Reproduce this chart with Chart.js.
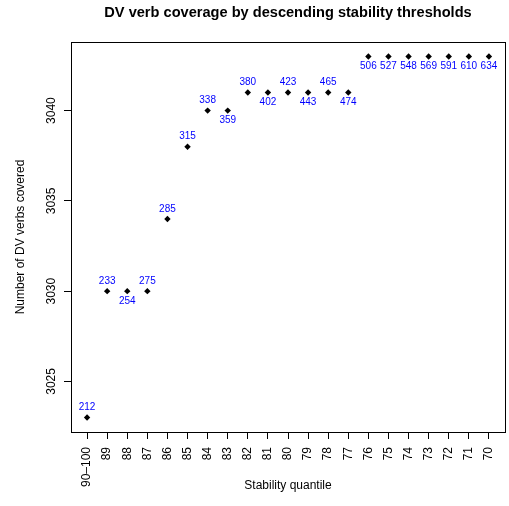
<!DOCTYPE html>
<html>
<head>
<meta charset="utf-8">
<script src="https://cdn.jsdelivr.net/npm/chart.js@4"></script>
<style>
  body { margin: 0; background: #fff; }
</style>
</head>
<body>
<canvas id="chart" width="509" height="506"></canvas>
<script>
const quantiles = ['90–100', '89', '88', '87', '86', '85', '84', '83', '82', '81', '80',
  '79', '78', '77', '76', '75', '74', '73', '72', '71', '70'];
const versesCovered = [3023, 3030, 3030, 3030, 3034, 3038, 3040, 3040, 3041, 3041, 3041,
  3041, 3041, 3041, 3043, 3043, 3043, 3043, 3043, 3043, 3043];
const pointLabels = [212, 233, 254, 275, 285, 315, 338, 359, 380, 402, 423,
  443, 465, 474, 506, 527, 548, 569, 591, 610, 634];
// which side of the point each count label sits on
const labelSide = ['up', 'up', 'down', 'up', 'up', 'up', 'up', 'down', 'up', 'down', 'up',
  'down', 'up', 'down', 'down', 'down', 'down', 'down', 'down', 'down', 'down'];
const yTicks = [3025, 3030, 3035, 3040];

const FONT = "'Liberation Sans', Arial, Helvetica, sans-serif";
Chart.defaults.font.family = FONT;
Chart.defaults.color = '#000';

const extras = {
  id: 'extras',
  afterDraw(chart) {
    const ctx = chart.ctx;
    const area = chart.chartArea;
    const meta = chart.getDatasetMeta(0);
    ctx.save();

    // box round the plot
    ctx.strokeStyle = '#000';
    ctx.lineWidth = 1;
    ctx.strokeRect(Math.round(area.left) + 0.5, Math.round(area.top) + 0.5,
      Math.round(area.right - area.left), Math.round(area.bottom - area.top));

    // title
    ctx.fillStyle = '#000';
    ctx.font = 'bold 14.6px ' + FONT;
    ctx.textAlign = 'center';
    ctx.textBaseline = 'middle';
    ctx.fillText('DV verb coverage by descending stability thresholds', (area.left + area.right) / 2, 13);

    // y tick labels, turned like R
    const yScale = chart.scales.y;
    ctx.font = '12px ' + FONT;
    ctx.textBaseline = 'alphabetic';
    yTicks.forEach(v => {
      ctx.save();
      ctx.translate(55, yScale.getPixelForValue(v));
      ctx.rotate(-Math.PI / 2);
      ctx.fillText(String(v), 0, 0);
      ctx.restore();
    });

    // count labels by the points
    ctx.fillStyle = '#0000ff';
    ctx.font = '10px ' + FONT;
    ctx.textBaseline = 'middle';
    meta.data.forEach((pt, i) => {
      const dy = labelSide[i] === 'up' ? -10 : 10;
      ctx.fillText(String(pointLabels[i]), pt.x, pt.y + dy);
    });
    ctx.restore();
  }
};

new Chart(document.getElementById('chart'), {
  type: 'scatter',
  data: {
    datasets: [{
      data: versesCovered.map((v, i) => ({ x: i + 1, y: v })),
      backgroundColor: '#000',
      borderColor: '#000',
      pointStyle: 'rectRot',
      pointRadius: 3.2,
      pointBorderWidth: 0,
      showLine: false
    }]
  },
  options: {
    responsive: false,
    animation: false,
    layout: { padding: { top: 42, right: 1, left: 0, bottom: 0 } },
    plugins: { legend: { display: false }, tooltip: { enabled: false } },
    scales: {
      x: {
        type: 'linear',
        min: 0.2,
        max: 21.8,
        afterBuildTicks: s => { s.ticks = quantiles.map((q, i) => ({ value: i + 1 })); },
        afterFit: s => { s.height = 74; s.paddingLeft = 0; s.paddingRight = 0; },
        ticks: {
          autoSkip: false,
          minRotation: 90,
          maxRotation: 90,
          padding: 8,
          font: { size: 12 },
          callback: v => quantiles[v - 1]
        },
        grid: { drawOnChartArea: false, drawTicks: true, tickLength: 7, color: '#000' },
        border: { display: false },
        title: { display: true, text: 'Stability quantile', font: { size: 12 }, padding: { bottom: 13 } }
      },
      y: {
        type: 'linear',
        min: 3022.2,
        max: 3043.8,
        afterBuildTicks: s => { s.ticks = yTicks.map(v => ({ value: v })); },
        afterFit: s => { s.width = 71; s.paddingTop = 0; s.paddingBottom = 0; },
        ticks: { display: false },
        grid: { drawOnChartArea: false, drawTicks: true, tickLength: 7, color: '#000' },
        border: { display: false },
        title: { display: true, text: 'Number of DV verbs covered', font: { size: 12 }, padding: { top: 13 } }
      }
    }
  },
  plugins: [extras]
});
</script>
</body>
</html>
